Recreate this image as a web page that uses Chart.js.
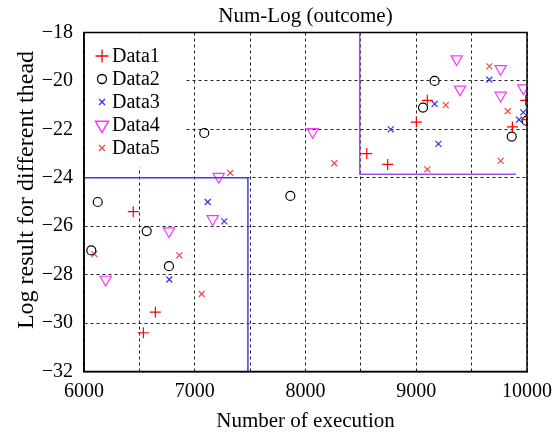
<!DOCTYPE html>
<html>
<head>
<meta charset="utf-8">
<script src="https://cdn.jsdelivr.net/npm/chart.js"></script>
<style>
  body { margin: 0; background: #fff; }
  #wrap { width: 556px; height: 435px; }
</style>
</head>
<body>
<div id="wrap"><canvas id="numLogChart" width="556" height="435"></canvas></div>
<script>
// values
const data1X = [6445, 6536, 6644, 8553, 8742, 9001, 9100, 9868, 9988, 9997];
const data1Y = [-25.4, -30.4, -29.55, -23.0, -23.45, -21.7, -20.8, -21.9, -20.8, -21.6];
const data2X = [6066, 6124, 6566, 6767, 7086, 7863, 9061, 9166, 9862, 9997];
const data2Y = [-27.0, -25.0, -26.2, -27.65, -22.15, -24.75, -21.1, -20.0, -22.3, -21.65];
const data3X = [6770, 7117, 7267, 8769, 9166, 9200, 9660, 9928, 9967];
const data3Y = [-28.2, -25.0, -25.8, -22.0, -20.95, -22.6, -19.95, -21.6, -21.3];
const data4X = [6196, 6767, 7162, 7216, 8065, 9365, 9395, 9762, 9762, 9967];
const data4Y = [-28.2, -26.2, -25.7, -23.95, -22.1, -19.1, -20.35, -19.5, -20.6, -20.3];
const data5X = [6093, 6861, 7063, 7321, 8260, 9100, 9266, 9660, 9762, 9826];
const data5Y = [-27.15, -27.2, -28.8, -23.8, -23.4, -23.65, -21.0, -19.4, -23.3, -21.25];

const blueLineX = [6000, 7480, 7480];
const blueLineY = [-24, -24, -32];
const purpleLineX = [8490, 8490, 9900];
const purpleLineY = [-18, -23.85, -23.85];

const seriesNames = ["Data1", "Data2", "Data3", "Data4", "Data5"];
const chartTitle = "Num-Log (outcome)";
const yTitle = "Log result for different thead";

const toPoints = (xs, ys) => xs.map((x, i) => ({ x: x, y: ys[i] }));
const serif = "'Liberation Serif', 'Times New Roman', serif";

const markerSets = [
  { pointStyle: "cross", radius: 5.5, rotation: 0, color: "#ff0000" },
  { pointStyle: "circle", radius: 4.5, rotation: 0, color: "#000000" },
  { pointStyle: "crossRot", radius: 4.2, rotation: 0, color: "#3333ee" },
  { pointStyle: "triangle", radius: 6.5, rotation: 180, color: "#ff33ff" },
  { pointStyle: "crossRot", radius: 4.2, rotation: 0, color: "#f04848" },
];

const seriesXY = [
  [data1X, data1Y],
  [data2X, data2Y],
  [data3X, data3Y],
  [data4X, data4Y],
  [data5X, data5Y],
];

const scatterSets = seriesXY.map(([xs, ys], i) => ({
  label: seriesNames[i],
  data: toPoints(xs, ys),
  showLine: false,
  pointStyle: markerSets[i].pointStyle,
  pointRadius: markerSets[i].radius,
  pointHoverRadius: markerSets[i].radius,
  pointRotation: markerSets[i].rotation,
  pointBorderColor: markerSets[i].color,
  pointBackgroundColor: "rgba(0,0,0,0)",
  pointBorderWidth: 1.2,
  borderColor: markerSets[i].color,
}));

const lineSets = [
  { data: toPoints(blueLineX, blueLineY), color: "#3c3cf0" },
  { data: toPoints(purpleLineX, purpleLineY), color: "#a050f0" },
].map((l) => ({
  label: "",
  data: l.data,
  showLine: true,
  borderColor: l.color,
  borderWidth: 1.5,
  pointRadius: 0,
  tension: 0,
  fill: false,
}));

// 축 박스 + 범례 + 제목 (matlab 스타일)
const boxAndLegend = {
  id: "boxAndLegend",
  afterDatasetsDraw(chart) {
    const { ctx, chartArea } = chart;
    const { left, top } = chartArea;
    ctx.save();
    ctx.fillStyle = "#fff";
    ctx.fillRect(left + 1, top + 1, 100, 134);
    const rowY = [56, 79, 102, 125, 148];
    seriesNames.forEach((name, i) => {
      const m = markerSets[i];
      ctx.strokeStyle = m.color;
      ctx.fillStyle = "rgba(0,0,0,0)";
      ctx.lineWidth = i === 3 ? 1.5 : 1.3;
      const r = i === 0 ? 6.5 : i === 3 ? 7.5 : m.radius;
      Chart.helpers.drawPoint(ctx, { pointStyle: m.pointStyle, radius: r, rotation: m.rotation, borderWidth: 1.3 }, 102, rowY[i]);
      ctx.fillStyle = "#000";
      ctx.font = "20px " + serif;
      ctx.textBaseline = "middle";
      ctx.textAlign = "left";
      ctx.fillText(name, 112, rowY[i] + 1);
    });
    ctx.restore();
  },
  afterDraw(chart) {
    const { ctx, chartArea } = chart;
    ctx.save();
    ctx.strokeStyle = "#000";
    ctx.lineWidth = 1.5;
    ctx.strokeRect(chartArea.left, chartArea.top, chartArea.right - chartArea.left, chartArea.bottom - chartArea.top);
    ctx.fillStyle = "#000";
    ctx.font = "21px " + serif;
    ctx.textAlign = "center";
    ctx.textBaseline = "middle";
    ctx.fillText(chartTitle, (chartArea.left + chartArea.right) / 2, 16);
    // y축 제목
    ctx.font = "24px " + serif;
    ctx.translate(27, 190);
    ctx.rotate(-Math.PI / 2);
    ctx.fillText(yTitle, 0, 0);
    ctx.restore();
  },
};

new Chart(document.getElementById("numLogChart").getContext("2d"), {
  type: "scatter",
  data: { datasets: [...lineSets, ...scatterSets] },
  options: {
    responsive: false,
    animation: false,
    layout: { padding: { top: 32.5, right: 29, bottom: 0, left: 0 } },
    plugins: {
      legend: { display: false },
      tooltip: { enabled: false },
      title: { display: false },
    },
    scales: {
      x: {
        type: "linear",
        min: 6000,
        max: 10000,
        afterFit: (scale) => {
          scale.height = 63.5;
          scale.paddingLeft = 0;
          scale.paddingRight = 0;
        },
        ticks: {
          stepSize: 500,
          autoSkip: false,
          maxRotation: 0,
          padding: 8,
          color: "#000",
          font: { family: serif, size: 20 },
          callback: (v) => (v % 1000 === 0 ? String(v) : ""),
        },
        grid: { color: "#222", lineWidth: 1, drawTicks: false },
        border: { display: true, color: "#000", width: 1.5, dash: [3, 3] },
        title: {
          display: true,
          text: "Number of execution",
          color: "#000",
          font: { family: serif, size: 21 },
          padding: { top: 0, bottom: 1 },
        },
      },
      y: {
        type: "linear",
        min: -32,
        max: -18,
        afterFit: (scale) => {
          scale.width = 84;
          scale.paddingTop = 0;
          scale.paddingBottom = 0;
        },
        ticks: {
          stepSize: 2,
          padding: 11,
          color: "#000",
          font: { family: serif, size: 20 },
          callback: (v) => String(v).replace("-", "\u2212"),
        },
        grid: { color: "#222", lineWidth: 1, drawTicks: false },
        border: { display: true, color: "#000", width: 1.5, dash: [3, 3] },
        title: { display: false },
      },
    },
  },
  plugins: [boxAndLegend],
});
</script>
</body>
</html>
